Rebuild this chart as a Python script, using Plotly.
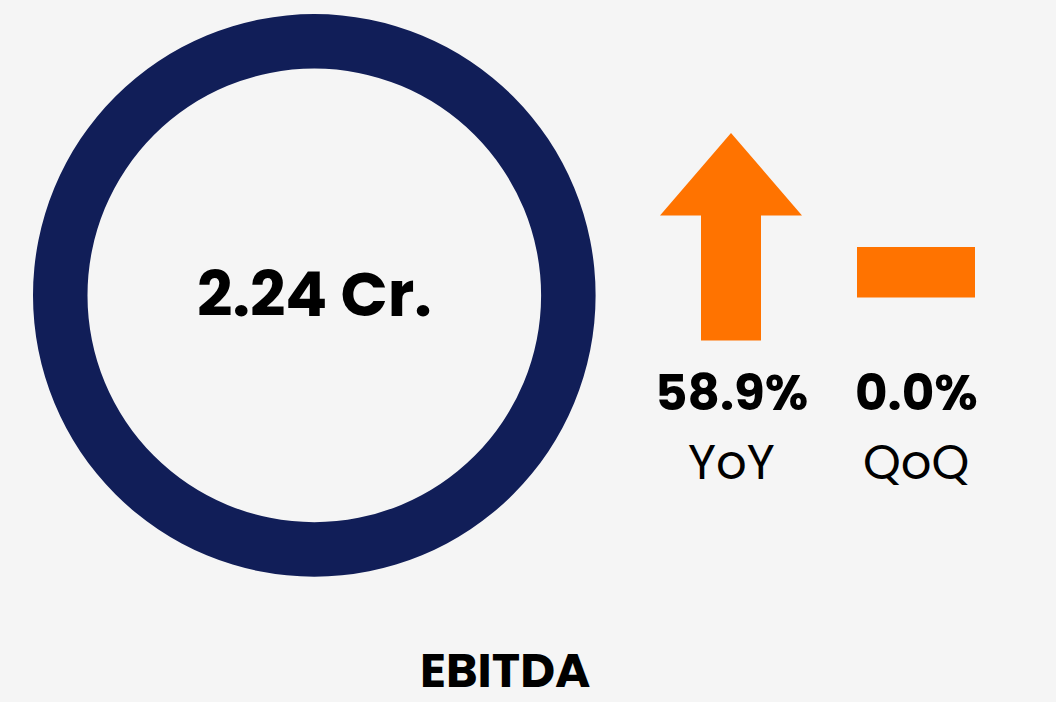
import plotly.graph_objects as go

# ---- data ----
metric_name = "EBITDA"
metric_value = 2.24
metric_unit = "Cr."
change_labels = ["YoY", "QoQ"]
change_values = [58.9, 0.0]

W, H = 1056, 702
BG = "#f5f5f5"
NAVY = "#111e58"
ORANGE = "#ff7300"
FONT = "Poppins, Inter, Roboto, sans-serif"

fig = go.Figure()

# ring (single-slice donut)
cx, cy, r_out, r_in = 314.3, 295.4, 281.3, 226.8
fig.add_trace(go.Pie(
    values=[metric_value], labels=[metric_name], hole=r_in / r_out,
    marker=dict(colors=[NAVY], line=dict(width=0)),
    textinfo="none", hoverinfo="skip", sort=False, showlegend=False,
    domain=dict(x=[(cx - r_out) / W, (cx + r_out) / W],
                y=[1 - (cy + r_out) / H, 1 - (cy - r_out) / H]),
))

# indicator glyphs
def up_arrow(xc):
    xs = [xc, xc + 71, xc + 30, xc + 30, xc - 30, xc - 30, xc - 71, xc]
    ys = [133, 215.5, 215.5, 340.5, 340.5, 215.5, 215.5, 133]
    return xs, ys

def down_arrow(xc):
    xs = [xc, xc + 71, xc + 30, xc + 30, xc - 30, xc - 30, xc - 71, xc]
    ys = [340.5, 258, 258, 133, 133, 258, 258, 340.5]
    return xs, ys

def flat_dash(xc):
    xs = [xc - 59, xc + 59, xc + 59, xc - 59, xc - 59]
    ys = [247, 247, 297.5, 297.5, 247]
    return xs, ys

col_x = [731, 916]
for xc, v in zip(col_x, change_values):
    if v > 0:
        xs, ys = up_arrow(xc)
    elif v < 0:
        xs, ys = down_arrow(xc)
    else:
        xs, ys = flat_dash(xc)
    fig.add_trace(go.Scatter(x=xs, y=ys, mode="lines", fill="toself",
                             fillcolor=ORANGE, line=dict(width=0, color=ORANGE),
                             hoverinfo="skip", showlegend=False))

ann = []
ann.append(dict(x=cx, y=294, text=f"<b>{metric_value:.2f} {metric_unit}</b>",
                font=dict(size=62, color="#000000", family=FONT)))
for xc, v, lab in zip(col_x, change_values, change_labels):
    ann.append(dict(x=xc, y=392, text=f"<b>{v:.1f}%</b>",
                    font=dict(size=50, color="#000000", family=FONT)))
    ann.append(dict(x=xc, y=462, text=lab,
                    font=dict(size=48, color="#000000", family=FONT)))
ann.append(dict(x=505, y=670.5, text=f"<b>{metric_name}</b>",
                font=dict(size=48, color="#000000", family=FONT)))
for a in ann:
    a.update(xref="x", yref="y", showarrow=False, xanchor="center", yanchor="middle")

fig.update_layout(
    width=W, height=H, margin=dict(l=0, r=0, t=0, b=0),
    paper_bgcolor=BG, plot_bgcolor="rgba(0,0,0,0)",
    xaxis=dict(range=[0, W], visible=False, fixedrange=True),
    yaxis=dict(range=[H, 0], visible=False, fixedrange=True),
    annotations=ann, showlegend=False,
)
fig.write_html("out.html", config={"displayModeBar": False},
               post_script="document.body.style.margin='0';document.body.style.background='#f5f5f5';")
